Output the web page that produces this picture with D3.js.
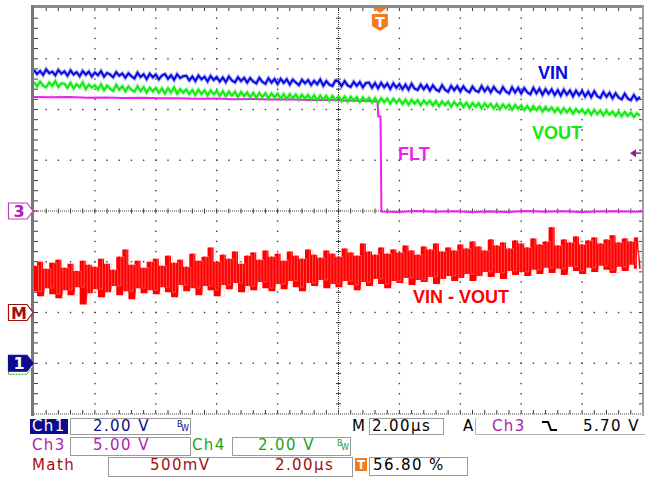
<!DOCTYPE html>
<html>
<head>
<meta charset="utf-8">
<script src="https://cdnjs.cloudflare.com/ajax/libs/d3/7.8.5/d3.min.js"></script>
<style>
  body { margin: 0; background: #fff; }
  svg { display: block; font-family: 'DejaVu Sans', Verdana, sans-serif; }
  .readout { font-size: 15px; letter-spacing: 1.4px; }
  .label { font-family: 'Liberation Sans', Arial, sans-serif; font-weight: bold; font-size: 18px; }
</style>
</head>
<body>
<script>
// ==================== Data ============================
// Horizontal: 2.00 us/div, trigger at 56.80 % of the record
const timePerDiv = 2.0,
      triggerPct = 56.8;
const tStart = -triggerPct / 100 * 10 * timePerDiv; // us at left edge
const sampleStep = 0.1;                              // us between VIN / VOUT samples
const mathStep = 0.2;                                // us between math hi/lo pairs

// Channel settings: volts per division, ground marker position (div from centre)
const ch1 = {scale: 2.0, pos: -3},   // VIN
      ch3 = {scale: 5.0, pos: 0},    // FLT
      ch4 = {scale: 2.0, pos: -3},   // VOUT
      math = {scale: 0.5, pos: -2};  // VIN - VOUT
const triggerLevel = 5.70;

// VIN (Ch1), volts
const vinVolts = [
  11.55, 11.40, 11.52, 11.36, 11.58, 11.43, 11.49, 11.35, 11.56, 11.41,
  11.50, 11.33, 11.54, 11.38, 11.47, 11.31, 11.52, 11.37, 11.49, 11.30,
  11.46, 11.35, 11.51, 11.29, 11.44, 11.38, 11.27, 11.47, 11.33, 11.42,
  11.25, 11.43, 11.31, 11.22, 11.45, 11.28, 11.39, 11.20, 11.41, 11.27,
  11.38, 11.19, 11.34, 11.40, 11.21, 11.35, 11.17, 11.39, 11.24, 11.31,
  11.33, 11.15, 11.30, 11.12, 11.34, 11.19, 11.29, 11.11, 11.32, 11.16,
  11.28, 11.10, 11.26, 11.08, 11.30, 11.14, 11.07, 11.27, 11.12, 11.25,
  11.06, 11.24, 11.10, 11.03, 11.25, 11.09, 11.01, 11.23, 11.06, 11.20,
  11.00, 11.21, 11.05, 11.19, 10.98, 11.18, 11.06, 10.96, 11.17, 11.03,
  11.16, 10.97, 11.13, 10.99, 11.18, 10.94, 11.12, 10.98, 10.93, 11.14,
  11.10, 10.92, 11.12, 10.95, 10.89, 11.09, 10.93, 11.08, 10.87, 11.05,
  11.06, 10.86, 11.04, 10.84, 11.05, 10.87, 11.02, 10.81, 11.03, 10.86,
  11.00, 10.80, 10.98, 10.78, 11.01, 10.82, 10.77, 10.98, 10.80, 10.96,
  10.75, 10.95, 10.79, 10.72, 10.96, 10.78, 10.70, 10.93, 10.76, 10.92,
  10.71, 10.91, 10.75, 10.68, 10.90, 10.74, 10.69, 10.92, 10.72, 10.88,
  10.68, 10.89, 10.73, 10.65, 10.88, 10.71, 10.63, 10.87, 10.67, 10.85,
  10.63, 10.84, 10.68, 10.60, 10.85, 10.64, 10.82, 10.58, 10.80, 10.62,
  10.79, 10.57, 10.76, 10.55, 10.78, 10.58, 10.75, 10.52, 10.74, 10.56,
  10.73, 10.51, 10.70, 10.49, 10.72, 10.52, 10.46, 10.69, 10.50, 10.66,
  10.44, 10.64, 10.47, 10.40, 10.62, 10.43, 10.37, 10.57, 10.38, 10.50
];

// VOUT (Ch4), volts
const voutVolts = [
  11.08, 10.91, 11.10, 10.94, 10.87, 11.07, 10.93, 11.12, 10.89, 11.03,
  11.02, 10.85, 11.05, 10.82, 10.99, 10.88, 11.07, 10.80, 10.98, 10.86,
  10.96, 10.79, 10.99, 10.76, 10.94, 10.82, 10.73, 10.97, 10.78, 10.92,
  10.72, 10.91, 10.77, 10.70, 10.92, 10.73, 10.88, 10.67, 10.86, 10.71,
  10.85, 10.66, 10.83, 10.63, 10.84, 10.67, 10.87, 10.62, 10.80, 10.66,
  10.79, 10.60, 10.77, 10.57, 10.78, 10.61, 10.76, 10.55, 10.75, 10.60,
  10.73, 10.54, 10.72, 10.52, 10.71, 10.55, 10.70, 10.49, 10.69, 10.53,
  10.67, 10.48, 10.66, 10.46, 10.65, 10.49, 10.64, 10.44, 10.63, 10.48,
  10.62, 10.43, 10.61, 10.41, 10.60, 10.44, 10.59, 10.39, 10.58, 10.43,
  10.57, 10.38, 10.56, 10.36, 10.55, 10.39, 10.54, 10.34, 10.53, 10.38,
  10.52, 10.34, 10.51, 10.31, 10.50, 10.35, 10.49, 10.29, 10.48, 10.33,
  10.46, 10.28, 10.45, 10.25, 10.44, 10.29, 10.43, 10.23, 10.42, 10.27,
  10.40, 10.22, 10.39, 10.19, 10.38, 10.23, 10.37, 10.17, 10.36, 10.21,
  10.34, 10.16, 10.33, 10.13, 10.32, 10.17, 10.31, 10.11, 10.30, 10.15,
  10.28, 10.10, 10.27, 10.07, 10.26, 10.11, 10.25, 10.05, 10.24, 10.09,
  10.22, 10.04, 10.21, 10.01, 10.20, 10.05, 10.19, 9.99, 10.18, 10.03,
  10.16, 9.98, 10.14, 9.95, 10.13, 9.97, 10.11, 9.92, 10.10, 9.95,
  10.08, 9.90, 10.06, 9.87, 10.05, 9.89, 10.04, 9.84, 10.02, 9.88,
  10.00, 9.83, 9.99, 9.80, 9.98, 9.82, 9.96, 9.77, 9.94, 9.80,
  9.92, 9.75, 9.91, 9.73, 9.90, 9.75, 9.88, 9.70, 9.85, 9.76
];

// FLT (Ch3): time (us) and volts
const fltTime = [
  -11.36, -10.8, -10.2, -9.6, -9.0, -8.4, -7.8, -7.2, -6.6, -6.0,
  -5.4, -4.8, -4.2, -3.6, -3.0, -2.4, -1.8, -1.2, -0.6, -0.08,
  -0.05, 0.02, 0.05, 0.6, 1.2, 1.8, 2.4, 3.0, 3.6, 4.2,
  4.8, 5.4, 6.0, 6.6, 7.2, 7.8, 8.4, 8.64
];
const fltVolts = [
  11.22, 11.20, 11.24, 11.17, 11.19, 11.13, 11.15, 11.10, 11.12, 11.06,
  11.08, 11.02, 11.04, 10.98, 11.00, 10.93, 10.95, 10.88, 10.86, 10.80,
  9.30, 9.30, -0.05, -0.10, 0.00, -0.08, -0.02, -0.10, -0.04, -0.09,
  0.00, -0.07, -0.03, -0.10, -0.05, -0.02, -0.08, -0.05
];

// VIN - VOUT (Math): alternating high / low samples, volts
const mathHigh = [
  0.46, 0.50, 0.43, 0.49, 0.52, 0.44, 0.48, 0.41, 0.51, 0.47,
  0.45, 0.53, 0.48, 0.42, 0.55, 0.62, 0.47, 0.51, 0.44, 0.50,
  0.53, 0.46, 0.56, 0.49, 0.52, 0.45, 0.58, 0.51, 0.55, 0.64,
  0.50, 0.57, 0.53, 0.60, 0.48, 0.56, 0.59, 0.52, 0.61, 0.55,
  0.58, 0.51, 0.60, 0.56, 0.53, 0.62, 0.57, 0.54, 0.61, 0.58,
  0.55, 0.63, 0.59, 0.56, 0.68, 0.60, 0.57, 0.64, 0.58, 0.62,
  0.59, 0.66, 0.61, 0.57, 0.65, 0.62, 0.68, 0.60, 0.64, 0.61,
  0.67, 0.63, 0.70, 0.65, 0.61, 0.72, 0.66, 0.69, 0.63, 0.71,
  0.68, 0.64, 0.73, 0.67, 0.70, 0.84, 0.66, 0.72, 0.69, 0.75,
  0.67, 0.71, 0.74, 0.68, 0.72, 0.76, 0.69, 0.73, 0.70, 0.74
];
const mathLow = [
  0.21, 0.16, 0.24, 0.18, 0.14, 0.22, 0.17, 0.25, 0.08, 0.19,
  0.23, 0.15, 0.20, 0.26, 0.17, 0.21, 0.13, 0.24, 0.19, 0.22,
  0.18, 0.25, 0.20, 0.15, 0.27, 0.21, 0.24, 0.17, 0.26, 0.22,
  0.16, 0.27, 0.23, 0.29, 0.20, 0.26, 0.22, 0.30, 0.24, 0.21,
  0.28, 0.23, 0.31, 0.25, 0.21, 0.29, 0.26, 0.32, 0.24, 0.28,
  0.25, 0.31, 0.27, 0.22, 0.30, 0.26, 0.33, 0.28, 0.24, 0.31,
  0.29, 0.34, 0.27, 0.32, 0.30, 0.35, 0.28, 0.33, 0.36, 0.31,
  0.34, 0.38, 0.31, 0.36, 0.40, 0.35, 0.39, 0.33, 0.41, 0.37,
  0.40, 0.36, 0.42, 0.38, 0.44, 0.39, 0.43, 0.37, 0.45, 0.41,
  0.38, 0.44, 0.40, 0.46, 0.42, 0.39, 0.45, 0.41, 0.47, 0.43
];

// Trace labels and readout text
const traceLabels = ['VIN', 'VOUT', 'FLT', 'VIN - VOUT'];
const ch1Readout = ['Ch1', '2.00 V'],
      ch3Readout = ['Ch3', '5.00 V'],
      ch4Readout = ['Ch4', '2.00 V'],
      mathReadout = ['Math', '500mV', '2.00\u00b5s'],
      horizReadout = ['M', '2.00\u00b5s'],
      trigReadout = ['A', 'Ch3', '5.70 V', '56.80 %'];

// ==================== Set up Variables ============================
const W = 656, H = 477;
const plot = {left: 34, right: 643, top: 8, bottom: 414};

const x = d3.scaleLinear()
    .domain([tStart, tStart + 10 * timePerDiv])
    .range([plot.left, plot.right]);
const y = d3.scaleLinear()
    .domain([-4, 4])
    .range([plot.bottom, plot.top]);

const yFor = (ch) => (v) => y(ch.pos + v / ch.scale);

const colors = {
  vin: '#0808e0', vout: '#10ea10', flt: '#f01ef0', math: '#ff0000',
  navy: '#0c0c8c', purple: '#b01cb0', green: '#1ea01e', darkRed: '#a01010',
  orange: '#f47a1e', grid: '#3c3c3c', frame: '#8a8a8a'
};

const svg = d3.select('body')
  .append('svg')
    .attr('width', W)
    .attr('height', H);

// ==================== Graticule ============================
const divW = (plot.right - plot.left) / 10,
      divH = (plot.bottom - plot.top) / 8;
const grid = svg.append('g').attr('class', 'grid').attr('fill', colors.grid);

// dotted major lines (dot at each minor division)
const dots = [];
d3.range(1, 10).filter((k) => k !== 5).forEach((k) => {
  d3.range(1, 40).forEach((m) => dots.push([plot.left + k * divW, plot.top + m * divH / 5]));
});
d3.range(1, 8).filter((k) => k !== 4).forEach((k) => {
  d3.range(1, 50).forEach((m) => dots.push([plot.left + m * divW / 5, plot.top + k * divH]));
});
grid.selectAll('rect.dot')
  .data(dots)
  .enter()
  .append('rect')
    .attr('class', 'dot')
    .attr('x', (d) => d[0] - 0.7)
    .attr('y', (d) => d[1] - 0.7)
    .attr('width', 1.4)
    .attr('height', 1.4);

// centre cross + bottom edge: fine dotted lines with minor ticks
const cx = plot.left + 5 * divW, cy = plot.top + 4 * divH;
const dashed = [
  [plot.left, cy, plot.right, cy],
  [cx, plot.top, cx, plot.bottom],
  [plot.left, plot.bottom, plot.right, plot.bottom]
];
grid.selectAll('line.fine')
  .data(dashed)
  .enter()
  .append('line')
    .attr('class', 'fine')
    .attr('x1', (d) => d[0]).attr('y1', (d) => d[1])
    .attr('x2', (d) => d[2]).attr('y2', (d) => d[3])
    .attr('stroke', colors.grid)
    .attr('stroke-width', 1)
    .attr('stroke-dasharray', '1,1');

const ticks = [];
d3.range(1, 50).forEach((m) => {
  const tx = plot.left + m * divW / 5;
  ticks.push([tx, cy - 2.5, tx, cy + 2.5]);
  ticks.push([tx, plot.bottom - 4, tx, plot.bottom]);
  ticks.push([tx, plot.top, tx, plot.top + 3]);
});
d3.range(1, 40).forEach((m) => {
  const ty = plot.top + m * divH / 5;
  ticks.push([cx - 2.5, ty, cx + 2.5, ty]);
  ticks.push([plot.left, ty, plot.left + 4, ty]);
  ticks.push([plot.right - 4, ty, plot.right, ty]);
});
grid.selectAll('line.tick')
  .data(ticks)
  .enter()
  .append('line')
    .attr('class', 'tick')
    .attr('x1', (d) => d[0]).attr('y1', (d) => d[1])
    .attr('x2', (d) => d[2]).attr('y2', (d) => d[3])
    .attr('stroke', colors.grid)
    .attr('stroke-width', 1);

// frame
svg.append('rect').attr('x', 31).attr('y', 5).attr('width', 613).attr('height', 3).attr('fill', colors.frame);
svg.append('rect').attr('x', 31).attr('y', 5).attr('width', 3).attr('height', 411).attr('fill', '#777');
svg.append('rect').attr('x', 642).attr('y', 5).attr('width', 2).attr('height', 411).attr('fill', '#a0a0a0');

// ==================== Traces ============================
svg.append('clipPath').attr('id', 'clip')
  .append('rect')
    .attr('x', plot.left).attr('y', plot.top)
    .attr('width', plot.right - plot.left).attr('height', plot.bottom - plot.top);

const traces = svg.append('g').attr('clip-path', 'url(#clip)');

// Math: solid envelope between high and low samples, plus the spiky sample-to-sample trace
const yMath = yFor(math);
const mathT = (i) => tStart + i * mathStep;
traces.append('path')
    .datum(mathHigh)
    .attr('fill', colors.math)
    .attr('d', d3.area()
      .curve(d3.curveStep)
      .x((d, i) => x(mathT(i)))
      .y0((d, i) => yMath(mathLow[i]))
      .y1((d) => yMath(d)));

const mathPoints = [];
mathHigh.forEach((v, i) => {
  mathPoints.push([mathT(i), v]);
  mathPoints.push([mathT(i) + mathStep / 2, mathLow[i]]);
});
traces.append('path')
    .datum(mathPoints)
    .attr('fill', 'none')
    .attr('stroke', colors.math)
    .attr('stroke-width', 1.6)
    .attr('d', d3.line().x((d) => x(d[0])).y((d) => yMath(d[1])));
// thin pale slivers inside the band
traces.append('path')
    .datum(mathPoints)
    .attr('fill', 'none')
    .attr('stroke', '#ffb0b0')
    .attr('stroke-width', 0.6)
    .attr('opacity', 0.7)
    .attr('d', d3.line().curve(d3.curveStepAfter).x((d) => x(d[0]) + 1.5).y((d) => yMath(d[1])));

// FLT
const yFlt = yFor(ch3);
traces.append('path')
    .datum(fltVolts)
    .attr('fill', 'none')
    .attr('stroke', colors.flt)
    .attr('stroke-width', 2)
    .attr('d', d3.line().x((d, i) => x(fltTime[i])).y((d) => yFlt(d)));

// VOUT / VIN: faint halo plus solid core
const yVout = yFor(ch4),
      yVin = yFor(ch1);
const sampleLine = (yFn) => d3.line().x((d, i) => x(tStart + i * sampleStep)).y((d) => yFn(d));
[[voutVolts, yVout, colors.vout], [vinVolts, yVin, colors.vin]].forEach(([data, yFn, col]) => {
  traces.append('path')
      .datum(data)
      .attr('fill', 'none')
      .attr('stroke', col)
      .attr('stroke-width', 4)
      .attr('opacity', 0.3)
      .attr('d', sampleLine(yFn));
  traces.append('path')
      .datum(data)
      .attr('fill', 'none')
      .attr('stroke', col)
      .attr('stroke-width', 2)
      .attr('d', sampleLine(yFn));
});

// Trace labels
const labelSpec = [
  {text: traceLabels[0], x: 538, y: 79, fill: colors.vin},
  {text: traceLabels[1], x: 532, y: 139, fill: colors.vout},
  {text: traceLabels[2], x: 398, y: 160, fill: colors.flt},
  {text: traceLabels[3], x: 413, y: 303, fill: colors.math}
];
svg.selectAll('text.label')
  .data(labelSpec)
  .enter()
  .append('text')
    .attr('class', 'label')
    .attr('x', (d) => d.x)
    .attr('y', (d) => d.y)
    .attr('fill', (d) => d.fill)
    .text((d) => d.text);

// ==================== Markers ============================
// trigger position badge at top
const tx0 = x(0);
svg.append('path')
    .attr('d', `M${tx0 - 7},8 H${tx0 + 7} L${tx0},13 Z`)
    .attr('fill', colors.orange);
svg.append('path')
    .attr('d', `M${tx0 - 8},14 H${tx0 + 8} V26 L${tx0},31 L${tx0 - 8},26 Z`)
    .attr('fill', colors.orange);
svg.append('text')
    .attr('x', tx0).attr('y', 27)
    .attr('text-anchor', 'middle')
    .attr('fill', '#fff')
    .style('font-weight', 'bold').style('font-size', '14px')
    .text('T');

// trigger level arrow on the right
const ty0 = yFlt(triggerLevel);
svg.append('path')
    .attr('d', `M${plot.right - 13},${ty0} L${plot.right - 7},${ty0 - 4} V${ty0 + 4} Z`)
    .attr('fill', '#8e1e8e');
svg.append('line')
    .attr('x1', plot.right - 8).attr('x2', plot.right - 2)
    .attr('y1', ty0).attr('y2', ty0)
    .attr('stroke', '#8e1e8e').attr('stroke-width', 1.5);

// channel ground markers on the left
const markerPath = (yy) => `M8.5,${yy - 8} H27 L33,${yy} L27,${yy + 8} H8.5 Z`;
svg.append('path')
    .attr('d', markerPath(yVout(0) + 3))
    .attr('fill', '#fff').attr('stroke', colors.green).attr('stroke-width', 1).attr('stroke-dasharray', '2,1');
const markers = [
  {y: yFlt(0), label: '3', stroke: '#c040c0', fill: '#fff', text: colors.purple},
  {y: yMath(0), label: 'M', stroke: colors.darkRed, fill: '#fff', text: colors.darkRed},
  {y: yVin(0), label: '1', stroke: colors.navy, fill: colors.navy, text: '#fff'}
];
markers.forEach((m) => {
  svg.append('path')
      .attr('d', markerPath(m.y))
      .attr('fill', m.fill)
      .attr('stroke', m.stroke)
      .attr('stroke-width', 1.2);
  svg.append('text')
      .attr('x', 19).attr('y', m.y + 6)
      .attr('text-anchor', 'middle')
      .attr('fill', m.text)
      .style('font-weight', 'bold').style('font-size', '16px')
      .text(m.label);
});

// ==================== Readouts ============================
const ro = svg.append('g').attr('class', 'readout');
const box = (x0, y0, w, h) => ro.append('rect')
    .attr('x', x0 + 0.5).attr('y', y0 + 0.5).attr('width', w).attr('height', h)
    .attr('fill', 'none').attr('stroke', '#9a9a9a').attr('stroke-width', 1);
const txt = (s, x0, y0, fill) => ro.append('text')
    .attr('x', x0).attr('y', y0).attr('fill', fill).text(s);
const bw = (x0, y0, fill) => {
  ro.append('text').attr('x', x0).attr('y', y0).attr('fill', fill)
    .style('font-size', '8px').style('letter-spacing', '0').text('B');
  ro.append('text').attr('x', x0 + 4).attr('y', y0 + 4).attr('fill', fill)
    .style('font-size', '8px').style('letter-spacing', '0').text('W');
};

// row 1
ro.append('rect').attr('x', 30).attr('y', 419).attr('width', 38).attr('height', 15).attr('fill', colors.navy);
txt(ch1Readout[0], 32, 431, '#fff');
box(70, 418, 120, 16);
txt(ch1Readout[1], 93, 431, colors.navy);
bw(177, 427, colors.navy);
txt(horizReadout[0], 352, 431, '#000');
box(369, 418, 74, 16);
txt(horizReadout[1], 372, 431, '#000');
txt(trigReadout[0], 463, 431, '#000');
ro.append('path').attr('d', 'M475.5,418 V434.5 H645').attr('fill', 'none').attr('stroke', '#b0b0b0');
txt(trigReadout[1], 492, 431, colors.purple);
ro.append('path').attr('d', 'M542,422 H548 L551,430 H557').attr('fill', 'none').attr('stroke', '#000').attr('stroke-width', 2);
txt(trigReadout[2], 583, 431, '#000');

// row 2
txt(ch3Readout[0], 32, 450, colors.purple);
box(70, 437, 120, 18);
txt(ch3Readout[1], 93, 450, colors.purple);
txt(ch4Readout[0], 192, 450, colors.green);
box(232, 437, 118, 18);
txt(ch4Readout[1], 258, 450, colors.green);
bw(337, 446, colors.green);

// row 3
txt(mathReadout[0], 32, 470, colors.darkRed);
box(108, 457, 244, 19);
txt(mathReadout[1], 150, 470, colors.darkRed);
txt(mathReadout[2], 275, 470, colors.darkRed);
ro.append('rect').attr('x', 355).attr('y', 458).attr('width', 12).attr('height', 13).attr('fill', colors.orange);
ro.append('text').attr('x', 361).attr('y', 469).attr('text-anchor', 'middle').attr('fill', '#fff')
    .style('font-size', '12px').style('font-weight', 'bold').style('letter-spacing', '0').text('T');
box(369, 457, 98, 18);
txt(trigReadout[3], 373, 470, '#000');
</script>
</body>
</html>
